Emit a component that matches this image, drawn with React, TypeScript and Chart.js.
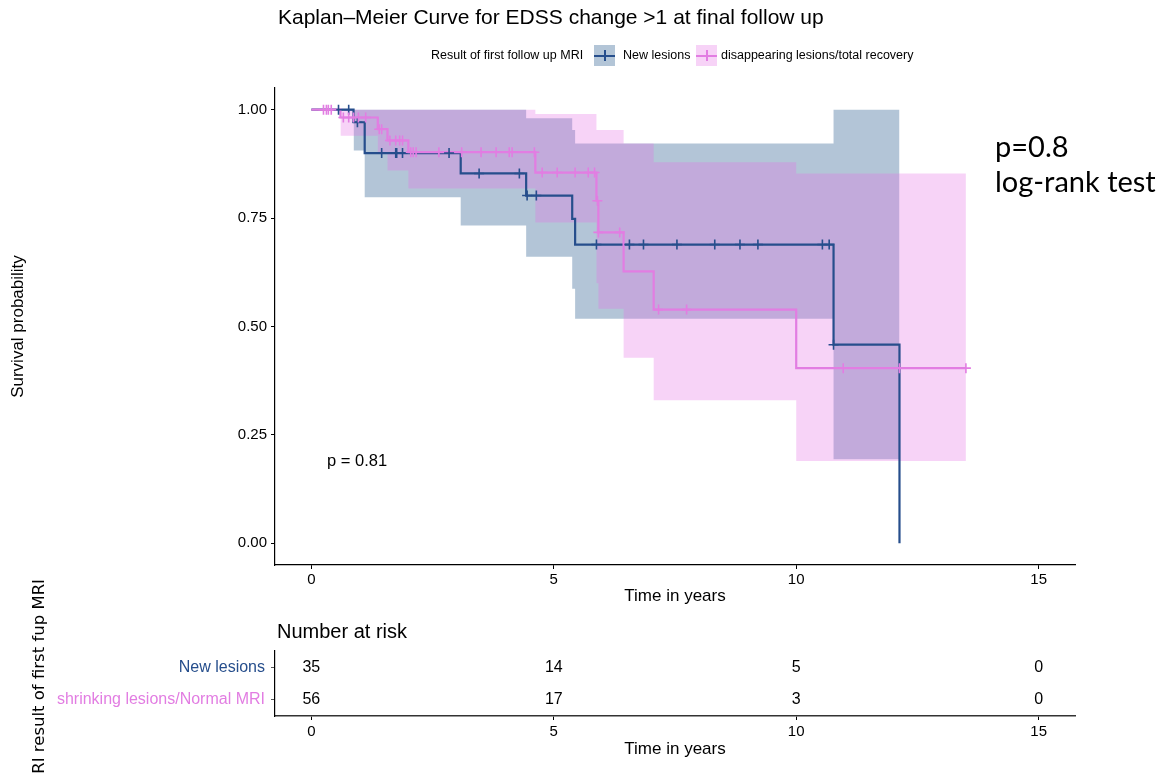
import React, { useEffect, useRef } from "react";
import { Chart, registerables } from "chart.js";

Chart.register(...registerables);

const FONT = '"Liberation Sans", Arial, Helvetica, sans-serif';
const NEW_COLOR = "#264E8C";
const DIS_COLOR = "#E27DE2";
const NEW_FILL = "rgba(20,75,130,0.32)";
const DIS_FILL = "rgba(230,110,230,0.30)";

// ---------- data ----------
const chartTitle = "Kaplan\u2013Meier Curve for EDSS change >1 at final follow up";
const legendTitle = "Result of first follow up MRI";
const groupNames = ["New lesions", "disappearing lesions/total recovery"];
const riskGroupLabels = ["New lesions", "shrinking lesions/Normal MRI"];

const xTicks = [0, 5, 10, 15];
const yTicks = [0, 0.25, 0.5, 0.75, 1];

// New lesions: survival step curve
const newTime = [0, 0.87, 1.1, 3.08, 4.43, 5.38, 5.44, 10.77, 12.13];
const newSurv = [1, 0.971, 0.9, 0.853, 0.802, 0.748, 0.689, 0.458, 0];
// New lesions: confidence band (value holds from time i until time i+1)
const newCiTime = [0.87, 1.1, 3.08, 4.43, 5.38, 5.44, 10.77, 12.13];
const newUpper = [1, 1, 1, 0.98, 0.953, 0.922, 1, 1];
const newLower = [0.906, 0.798, 0.733, 0.661, 0.587, 0.518, 0.194, 0.194];
// New lesions: censored observations
const newCensorTime = [0.56, 0.77, 0.95, 1.45, 1.74, 1.76, 1.88, 2.84, 3.46, 4.29, 4.45, 4.64, 5.88, 6.56, 6.85, 7.54, 8.32, 8.84, 9.21, 10.54, 10.68, 10.77];
const newCensorSurv = [1, 1, 0.971, 0.9, 0.9, 0.9, 0.9, 0.9, 0.853, 0.853, 0.802, 0.802, 0.689, 0.689, 0.689, 0.689, 0.689, 0.689, 0.689, 0.689, 0.689, 0.458];

// Disappearing lesions: survival step curve
const disTime = [0, 0.6, 1.37, 1.57, 2.0, 4.62, 5.88, 5.92, 6.44, 7.06, 10.0, 13.5];
const disSurv = [1, 0.982, 0.955, 0.929, 0.902, 0.855, 0.79, 0.717, 0.627, 0.539, 0.404, 0.404];
// Disappearing lesions: confidence band
const disCiTime = [0.6, 1.37, 1.57, 2.0, 4.62, 5.88, 5.92, 6.44, 7.06, 10.0, 13.5];
const disUpper = [1, 1, 1, 1, 0.99, 0.953, 0.953, 0.922, 0.879, 0.853, 0.853];
const disLower = [0.94, 0.9, 0.86, 0.818, 0.74, 0.6, 0.541, 0.428, 0.33, 0.19, 0.19];
// Disappearing lesions: censored observations
const disCensorTime = [0.25, 0.31, 0.35, 0.41, 0.66, 0.77, 0.87, 0.97, 1.12, 1.4, 1.45, 1.62, 1.74, 1.82, 1.88, 2.05, 2.1, 2.16, 2.63, 3.1, 3.5, 3.81, 4.08, 4.14, 4.6, 4.76, 5.07, 5.44, 5.71, 5.84, 5.9, 5.92, 6.36, 7.16, 7.74, 10.97, 12.13, 13.5];
const disCensorSurv = [1, 1, 1, 1, 0.982, 0.982, 0.982, 0.982, 0.982, 0.955, 0.955, 0.929, 0.929, 0.929, 0.929, 0.902, 0.902, 0.902, 0.902, 0.902, 0.902, 0.902, 0.902, 0.902, 0.902, 0.855, 0.855, 0.855, 0.855, 0.855, 0.79, 0.717, 0.717, 0.539, 0.539, 0.404, 0.404, 0.404];

// Number at risk table
const riskTimes = [0, 5, 10, 15];
const riskNew = [35, 14, 5, 0];
const riskDis = [56, 17, 3, 0];

const pValueText = "p = 0.81";
const noteLines = ["p=0.8", "log-rank test"];

// ---------- helpers ----------
const pts = (xs: number[], ys: number[]) => xs.map((x, i) => ({ x, y: ys[i] }));

const axisCommon = (size: number) => ({
  grid: { display: true, drawOnChartArea: false, drawTicks: true, tickLength: 4, tickColor: "#000", tickWidth: 1, color: "#000" },
  border: { display: true, color: "#000", width: 1.2 },
  ticks: { font: { family: FONT, size }, color: "#000" },
});

export default function App() {
  const topRef = useRef<HTMLCanvasElement>(null);
  const tableRef = useRef<HTMLCanvasElement>(null);

  useEffect(() => {
    const band = (times: number[], up: number[], lo: number[], fillColor: string, order: number) => [
      { data: pts(times, up), stepped: "before" as const, borderColor: "transparent", borderWidth: 0, pointRadius: 0, fill: false, order },
      { data: pts(times, lo), stepped: "before" as const, borderColor: "transparent", borderWidth: 0, pointRadius: 0, fill: "-1", backgroundColor: fillColor, order },
    ];
    const line = (xs: number[], ys: number[], color: string, order: number) => ({
      data: pts(xs, ys), stepped: "before" as const, borderColor: color, borderWidth: 2.2, pointRadius: 0, fill: false, order,
    });
    const censor = (xs: number[], ys: number[], color: string, order: number) => ({
      data: pts(xs, ys), showLine: false, pointStyle: "cross", pointRadius: 5, pointBorderWidth: 1.6,
      pointBorderColor: color, pointBackgroundColor: color, borderColor: color, order,
    });

    const c1 = new Chart(topRef.current as HTMLCanvasElement, {
      type: "line",
      data: {
        datasets: [
          ...band(newCiTime, newUpper, newLower, NEW_FILL, 5),
          ...band(disCiTime, disUpper, disLower, DIS_FILL, 4),
          line(newTime, newSurv, NEW_COLOR, 3),
          line(disTime, disSurv, DIS_COLOR, 2),
          censor(newCensorTime, newCensorSurv, NEW_COLOR, 1),
          censor(disCensorTime, disCensorSurv, DIS_COLOR, 0),
        ] as any,
      },
      options: {
        animation: false,
        responsive: false,
        maintainAspectRatio: false,
        events: [],
        layout: { padding: { left: 0, top: 88, right: 95, bottom: 8 } },
        plugins: { legend: { display: false }, tooltip: { enabled: false }, title: { display: false } },
        scales: {
          x: {
            type: "linear",
            min: -0.75,
            max: 15.75,
            ...axisCommon(15),
            ticks: { font: { family: FONT, size: 15 }, color: "#000", padding: 2, maxRotation: 0, autoSkip: false },
            afterBuildTicks: (s: any) => { s.ticks = xTicks.map((v) => ({ value: v })); },
            afterFit: (s: any) => { s.height = 42; },
            title: { display: true, text: "Time in years", font: { family: FONT, size: 17 }, color: "#000", padding: { top: 0, bottom: 0 } },
          },
          y: {
            type: "linear",
            min: -0.05,
            max: 1.05,
            ...axisCommon(15),
            ticks: { font: { family: FONT, size: 15 }, color: "#000", padding: 4, callback: (v: any) => Number(v).toFixed(2) },
            afterBuildTicks: (s: any) => { s.ticks = yTicks.map((v) => ({ value: v })); },
            afterFit: (s: any) => { s.width = 275; },
            title: { display: true, text: "Survival probability", font: { family: FONT, size: 17 }, color: "#000", padding: { top: 8, bottom: 0 } },
          },
        },
      } as any,
    });

    const riskNumbers = {
      id: "riskNumbers",
      afterDatasetsDraw(chart: any) {
        const { ctx } = chart;
        const xs = chart.scales.x;
        const ys = chart.scales.y;
        ctx.save();
        ctx.font = `16px ${FONT}`;
        ctx.fillStyle = "#000";
        ctx.textAlign = "center";
        ctx.textBaseline = "middle";
        riskTimes.forEach((t, i) => {
          ctx.fillText(String(riskNew[i]), xs.getPixelForValue(t), ys.getPixelForValue(0));
          ctx.fillText(String(riskDis[i]), xs.getPixelForValue(t), ys.getPixelForValue(1));
        });
        ctx.restore();
      },
    };

    const c2 = new Chart(tableRef.current as HTMLCanvasElement, {
      type: "line",
      data: {
        labels: riskGroupLabels,
        datasets: [
          { data: riskTimes.map((t) => ({ x: t, y: riskGroupLabels[0] })), showLine: false, pointRadius: 0 },
          { data: riskTimes.map((t) => ({ x: t, y: riskGroupLabels[1] })), showLine: false, pointRadius: 0 },
        ] as any,
      },
      plugins: [riskNumbers],
      options: {
        animation: false,
        responsive: false,
        maintainAspectRatio: false,
        events: [],
        layout: { padding: { left: 0, top: 81, right: 95, bottom: 14 } },
        plugins: { legend: { display: false }, tooltip: { enabled: false }, title: { display: false } },
        scales: {
          x: {
            type: "linear",
            min: -0.75,
            max: 15.75,
            ...axisCommon(15),
            border: { display: true, color: "#333", width: 1.6 },
            ticks: { font: { family: FONT, size: 15 }, color: "#000", padding: 3, maxRotation: 0, autoSkip: false },
            afterBuildTicks: (s: any) => { s.ticks = xTicks.map((v) => ({ value: v })); },
            afterFit: (s: any) => { s.height = 44; },
            title: { display: true, text: "Time in years", font: { family: FONT, size: 17 }, color: "#000", padding: { top: 0, bottom: 0 } },
          },
          y: {
            type: "category",
            labels: riskGroupLabels,
            offset: true,
            ...axisCommon(16),
            grid: { display: true, drawOnChartArea: false, drawTicks: true, tickLength: 4, tickColor: "#555", color: "#555" },
            ticks: { font: { family: FONT, size: 16 }, padding: 6, color: (c: any) => (c.index === 0 ? NEW_COLOR : DIS_COLOR) },
            afterFit: (s: any) => { s.width = 275; },
            title: { display: true, text: "MRI result of first fup MRI", font: { family: '"DejaVu Sans", sans-serif', size: 16.5 }, color: "#000", padding: { top: 30, bottom: 0 } },
          },
        },
      } as any,
    });

    return () => {
      c1.destroy();
      c2.destroy();
    };
  }, []);

  const abs = (s: React.CSSProperties): React.CSSProperties => ({ position: "absolute", whiteSpace: "nowrap", ...s });

  return (
    <div style={{ position: "absolute", left: 0, top: 0, width: 1170, height: 774, background: "#fff", overflow: "hidden", fontFamily: FONT, color: "#000" }}>
      <canvas ref={topRef} width={1170} height={615} style={{ position: "absolute", left: 0, top: 0, width: 1170, height: 615 }} />
      <canvas ref={tableRef} width={1170} height={204} style={{ position: "absolute", left: 0, top: 570, width: 1170, height: 204 }} />

      <div style={abs({ left: 278, top: 6, fontSize: 21, lineHeight: "21px" })}>{chartTitle}</div>

      <div style={abs({ left: 431, top: 49, fontSize: 12.5, lineHeight: "12.5px" })}>{legendTitle}</div>
      <div style={abs({ left: 594, top: 45, width: 21, height: 21, background: NEW_FILL })}>
        <div style={abs({ left: 0, top: 9.5, width: 21, height: 2, background: NEW_COLOR })} />
        <div style={abs({ left: 9.5, top: 5, width: 2, height: 11, background: NEW_COLOR })} />
      </div>
      <div style={abs({ left: 623, top: 49, fontSize: 12.5, lineHeight: "12.5px" })}>{groupNames[0]}</div>
      <div style={abs({ left: 696, top: 45, width: 21, height: 21, background: DIS_FILL })}>
        <div style={abs({ left: 0, top: 9.5, width: 21, height: 2, background: DIS_COLOR })} />
        <div style={abs({ left: 9.5, top: 5, width: 2, height: 11, background: DIS_COLOR })} />
      </div>
      <div style={abs({ left: 721, top: 49, fontSize: 12.5, lineHeight: "12.5px" })}>{groupNames[1]}</div>

      <div style={abs({ left: 327, top: 452, fontSize: 16.5, lineHeight: "16.5px" })}>{pValueText}</div>

      <div style={abs({ left: 995, top: 128, fontFamily: "Lato, 'Open Sans', sans-serif", fontSize: 29, lineHeight: "35px" })}>
        {noteLines[0]}
        <br />
        {noteLines[1]}
      </div>

      <div style={abs({ left: 277, top: 621, fontSize: 20, lineHeight: "20px" })}>Number at risk</div>
    </div>
  );
}
